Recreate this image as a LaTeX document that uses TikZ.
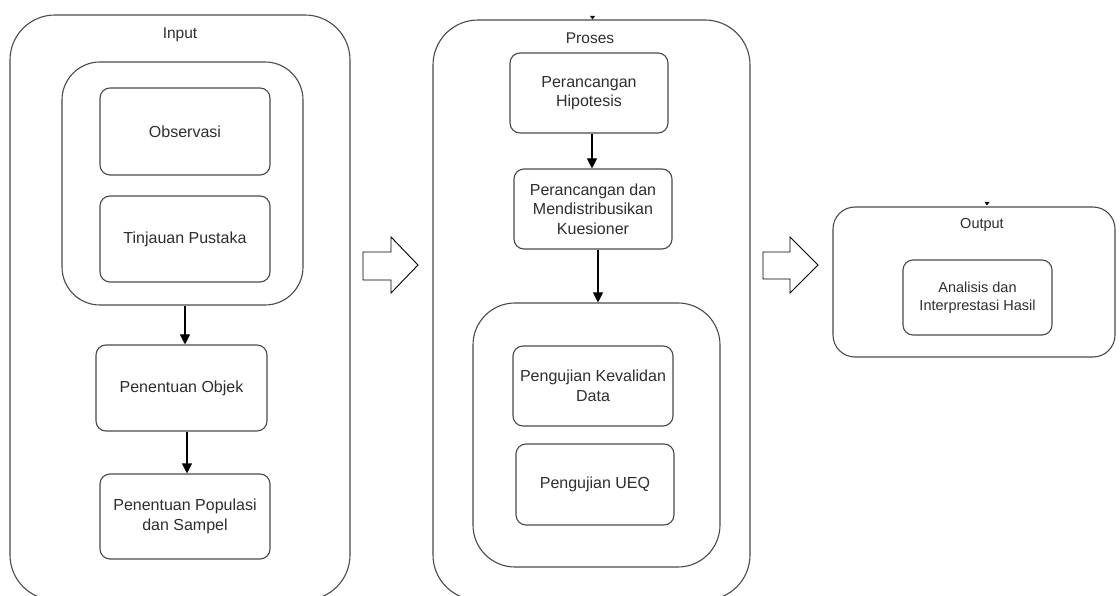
\documentclass[tikz,border=0pt]{standalone}
\usepackage{fontspec}
\setmainfont{Liberation Sans}
\usetikzlibrary{arrows.meta}
\definecolor{edgegrey}{HTML}{4A4A4A}
\definecolor{txtgrey}{HTML}{2E2E2E}
\tikzset{
  panel/.style={draw=edgegrey, line width=1.1pt, rounded corners=#1, inner sep=0pt},
  panel/.default=10pt,
  stepbox/.style={draw=edgegrey, line width=1.1pt, rounded corners=10pt, align=center, text=txtgrey,
    inner sep=2pt, font=\fontsize{16}{19.5}\selectfont},
  lbl/.style={text=txtgrey, inner sep=0pt, font=\fontsize{15.5}{19.5}\selectfont},
  arr/.style={draw=black, line width=1.1pt, -{Triangle[length=10pt,width=10pt]}},
  blockarr/.style={draw=black, line width=0.9pt, line join=miter, fill=white},
  tinytip/.style={fill=black, draw=none}
}
\begin{document}
\begin{tikzpicture}[x=1pt,y=-1pt]
\useasboundingbox (0,0) rectangle (1120,596);
\clip (0,0) rectangle (1120,596);
\fill[white] (0,0) rectangle (1120,596);

% ---- Input panel ----
\node[panel=45pt, minimum width=340pt, minimum height=585pt] (inpanel) at (180,307.5) {};
\node[lbl] (inlbl) at (180,35) {Input};
\node[panel=38pt, minimum width=241pt, minimum height=243pt] (grpA) at (182.5,183.5) {};
\node[stepbox, minimum width=170pt, minimum height=87pt] (obs) at (185,131.5) {Observasi};
\node[stepbox, minimum width=170pt, minimum height=86pt] (tin) at (185,239) {Tinjauan Pustaka};
\node[stepbox, minimum width=171pt, minimum height=86pt] (obj) at (181.5,388) {Penentuan Objek};
\node[stepbox, minimum width=170pt, minimum height=85pt] (pop) at (185,516.5) {Penentuan Populasi\\dan Sampel};
\draw[arr] ([xshift=2.5pt]grpA.south) -- ([xshift=3.5pt]obj.north);
\draw[arr] ([xshift=5.5pt]obj.south) -- ([xshift=2pt]pop.north);

% ---- block arrow 1 ----
\draw[blockarr] (363,252) -- (391,252) -- (391,237) -- (418,265) -- (391,293) -- (391,280) -- (363,280) -- cycle;

% ---- Proses panel ----
\node[panel=45pt, minimum width=317pt, minimum height=580pt] (prpanel) at (591.5,310) {};
\node[lbl] (prlbl) at (590,38) {Proses};
\coordinate (prtip) at (592.5,18);
\fill[tinytip] ([xshift=-2.5pt,yshift=2pt]prtip) -- ([xshift=2.5pt,yshift=2pt]prtip) -- ([yshift=-1.5pt]prtip) -- cycle;
\node[stepbox, minimum width=158pt, minimum height=80pt] (hip) at (589,93) {Perancangan\\Hipotesis};
\node[stepbox, minimum width=158pt, minimum height=80pt] (kue) at (593,209) {Perancangan dan\\Mendistribusikan\\Kuesioner};
\node[panel=42pt, minimum width=247pt, minimum height=264pt] (grpB) at (596.5,435) {};
\node[stepbox, minimum width=160pt, minimum height=80pt] (val) at (593,386) {Pengujian Kevalidan\\Data};
\node[stepbox, minimum width=158pt, minimum height=81pt] (ueq) at (595,484.5) {Pengujian UEQ};
\draw[arr] ([xshift=3pt]hip.south) -- ([xshift=-1pt]kue.north);
\draw[arr] ([xshift=5pt]kue.south) -- ([xshift=1.5pt]grpB.north);

% ---- block arrow 2 ----
\draw[blockarr] (763,252) -- (790,252) -- (790,237) -- (818,265) -- (790,293) -- (790,279) -- (763,279) -- cycle;

% ---- Output panel ----
\node[panel=22pt, minimum width=282pt, minimum height=150pt] (outpanel) at (974,282) {};
\node[lbl, font=\fontsize{14.5}{18}\selectfont] (outlbl) at (982,225) {Output};
\coordinate (outtip) at (987,204);
\fill[tinytip] ([xshift=-2.5pt,yshift=2pt]outtip) -- ([xshift=2.5pt,yshift=2pt]outtip) -- ([yshift=-1.5pt]outtip) -- cycle;
\node[stepbox, font=\fontsize{14.5}{18}\selectfont, minimum width=149pt, minimum height=75pt] (ana) at (977.5,297.5) {Analisis dan\\Interprestasi Hasil};
\end{tikzpicture}
\end{document}
